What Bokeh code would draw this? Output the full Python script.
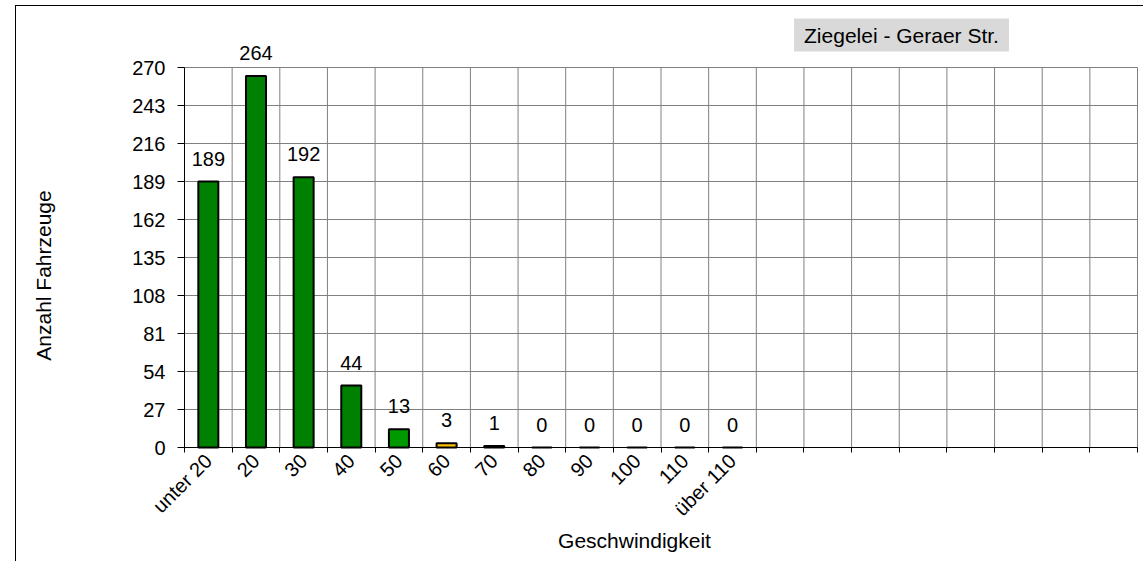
import math
from bokeh.plotting import figure
from bokeh.models import FixedTicker, Range1d, Label
from bokeh.embed import file_html
from bokeh.resources import INLINE
from bokeh.core.properties import value

# ---- data ----
categories = ["unter 20", "20", "30", "40", "50", "60", "70", "80", "90", "100", "110", "über 110"]
counts = [189, 264, 192, 44, 13, 3, 1, 0, 0, 0, 0, 0]
y_ticks = [0, 27, 54, 81, 108, 135, 162, 189, 216, 243, 270]
n_slots = 20  # number of grid columns on the category axis
title_text = "Ziegelei - Geraer Str."
x_title = "Geschwindigkeit"
y_title = "Anzahl Fahrzeuge"

# ---- style ----
bar_colors = ["#008000", "#008000", "#008000", "#008000", "#009900", "#FFC000",
              "#FF0000", "#FF0000", "#FF0000", "#FF0000", "#FF0000", "#FF0000"]
FONT = "Liberation Sans"
FS = "20px"
GRID = "#808080"

xs = list(range(len(categories)))
boundaries = [i - 0.5 for i in range(n_slots + 1)]
x_lo, x_hi = boundaries[0], boundaries[-1]
y_max = y_ticks[-1]

# view: the drawing area covers the whole canvas; axes sit at fixed data locations
PX_X = 47.65            # pixels per category
PX_Y = 380.0 / y_max    # pixels per vehicle
x_view = (x_lo - 168 / PX_X, x_lo + 960 / PX_X)
y_view = (-115 / PX_Y, 441 / PX_Y)

p = figure(width=1128, height=556,
           x_range=Range1d(*x_view), y_range=Range1d(*y_view),
           output_backend="svg", toolbar_location=None,
           min_border_left=0, min_border_right=0, min_border_top=0, min_border_bottom=0)
p.styles = {"margin-left": "15px", "margin-top": "5px",
            "border-left": "1px solid #000000", "border-top": "1px solid #000000"}
p.background_fill_color = "white"
p.border_fill_color = "white"
p.outline_line_color = None
p.xgrid.visible = False
p.ygrid.visible = False

# grid lines limited to the plot area
p.segment(x0=[x_lo] * len(y_ticks), y0=y_ticks, x1=[x_hi] * len(y_ticks), y1=y_ticks,
          line_color=GRID, line_width=1)
p.segment(x0=boundaries, y0=[0] * len(boundaries), x1=boundaries, y1=[y_max] * len(boundaries),
          line_color=GRID, line_width=1)

p.vbar(x=xs, top=counts, width=0.42, fill_color=bar_colors, line_color="black", line_width=2)
p.text(x=xs, y=counts, text=[str(c) for c in counts], text_align="center",
       text_baseline="alphabetic", y_offset=-23, text_font=value(FONT),
       text_font_size=FS, text_color="black")

# x axis
xa = p.xaxis[0]
xa.fixed_location = 0
xa.ticker = FixedTicker(ticks=xs, minor_ticks=boundaries)
xa.bounds = (x_lo, x_hi)
xa.major_label_overrides = {i: c for i, c in enumerate(categories)}
xa.major_label_orientation = math.pi / 4
xa.major_tick_line_color = None
xa.major_tick_out = 5
xa.major_tick_in = 0
xa.minor_tick_line_color = "black"
xa.minor_tick_out = 5
xa.minor_tick_in = 0
xa.major_label_standoff = 5
xa.major_label_text_font = FONT
xa.major_label_text_font_size = FS
xa.major_label_text_color = "black"
xa.axis_line_color = "black"

# y axis
ya = p.yaxis[0]
ya.fixed_location = x_lo
ya.ticker = FixedTicker(ticks=y_ticks)
ya.bounds = (0, y_max)
ya.major_tick_out = 7
ya.major_tick_in = 0
ya.minor_tick_line_color = None
ya.major_label_standoff = 12
ya.major_label_text_font = FONT
ya.major_label_text_font_size = FS
ya.major_label_text_color = "black"
ya.axis_line_color = "black"

# axis titles and chart title
p.add_layout(Label(x=x_lo - 141 / PX_X, y=172 / PX_Y, angle=math.pi / 2, text=y_title,
                   text_align="center", text_baseline="middle",
                   text_font=FONT, text_font_size="21px", text_color="black"))
p.add_layout(Label(x=x_lo + 450 / PX_X, y=-93 / PX_Y, text=x_title,
                   text_align="center", text_baseline="alphabetic",
                   text_font=FONT, text_font_size="21px", text_color="black"))
p.add_layout(Label(x=x_lo + 717 / PX_X, y=412.5 / PX_Y, text=title_text,
                   text_align="center", text_baseline="middle",
                   text_font=FONT, text_font_size="21px", text_color="black",
                   background_fill_color="#D9D9D9", padding=(10, 5)))

open("out.html", "w").write(file_html(p, INLINE))
